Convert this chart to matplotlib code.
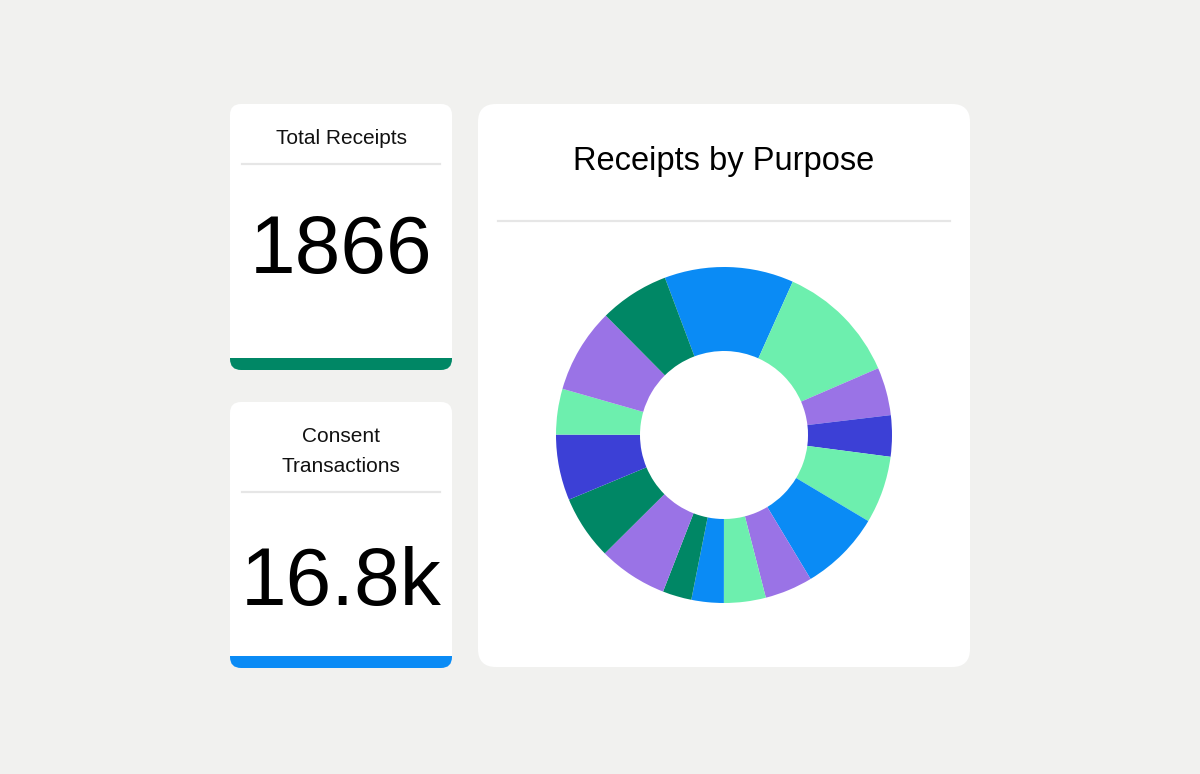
import matplotlib
matplotlib.use("Agg")
import matplotlib.pyplot as plt
from matplotlib.patches import FancyBboxPatch, Rectangle

plt.rcParams['font.family'] = ['Liberation Sans', 'DejaVu Sans']

# KPI cards
kpi_titles = [["Total Receipts"], ["Consent", "Transactions"]]
kpi_values = ["1866", "16.8k"]
kpi_colors = ["#008765", "#0A8BF5"]

# donut: receipts by purpose (clockwise from the top-left blue slice)
purpose_counts = [232, 220, 86, 74, 121, 146, 86, 75, 58, 52, 124, 115, 118, 82, 152, 125]
purpose_colors = ["#0A8BF5", "#6DEFAE", "#9A73E6", "#3C40D6", "#6DEFAE", "#0A8BF5",
                  "#9A73E6", "#6DEFAE", "#0A8BF5", "#008765", "#9A73E6", "#008765",
                  "#3C40D6", "#6DEFAE", "#9A73E6", "#008765"]

W, H = 1200, 774
bg = "#F1F1EF"
line_col = "#E6E6E6"

fig = plt.figure(figsize=(W / 100, H / 100), dpi=100)
fig.patch.set_facecolor(bg)

# canvas axes in pixel coordinates
ax = fig.add_axes([0, 0, 1, 1])
ax.set_xlim(0, W)
ax.set_ylim(H, 0)
ax.axis('off')


def card(x0, y0, x1, y1, r):
    p = FancyBboxPatch((x0, y0), x1 - x0, y1 - y0,
                       boxstyle=f"round,pad=0,rounding_size={r}",
                       facecolor="white", edgecolor="none", zorder=1)
    ax.add_patch(p)
    return p


# small cards
card_tops = [104, 402]
value_base = [273, 605]
for i, top in enumerate(card_tops):
    bottom = top + 266
    p = card(230, top, 452, bottom, 11)
    bar = Rectangle((230, bottom - 12), 222, 12, facecolor=kpi_colors[i],
                    edgecolor="none", zorder=2)
    ax.add_patch(bar)
    bar.set_clip_path(p)

    for j, line in enumerate(kpi_titles[i]):
        ax.text(341, top + 40 + 30 * j, line, ha='center', va='baseline',
                fontsize=15, color="#111111", zorder=3)
    div_y = top + 60 + 30 * (len(kpi_titles[i]) - 1)
    ax.plot([242, 440], [div_y, div_y], color=line_col, lw=1.6, zorder=3)
    ax.text(341, value_base[i], kpi_values[i], ha='center', va='baseline',
            fontsize=59, color="black", zorder=3)

# big card
card(478, 104, 970, 667, 18)
ax.text(724, 170, "Receipts by Purpose", ha='center', va='baseline',
        fontsize=23.5, color="black", zorder=3)
ax.plot([498, 950], [221, 221], color=line_col, lw=1.6, zorder=3)

# donut axes
cx, cy, R = 724, 435, 168
dax = fig.add_axes([(cx - R) / W, (H - cy - R) / H, 2 * R / W, 2 * R / H])
dax.pie(purpose_counts, colors=purpose_colors, startangle=110.6, counterclock=False,
        radius=1, wedgeprops=dict(width=0.5, edgecolor="none", linewidth=0))
dax.set_xlim(-1, 1)
dax.set_ylim(-1, 1)
dax.axis('off')

fig.savefig("out.png", dpi=100, facecolor=bg)
